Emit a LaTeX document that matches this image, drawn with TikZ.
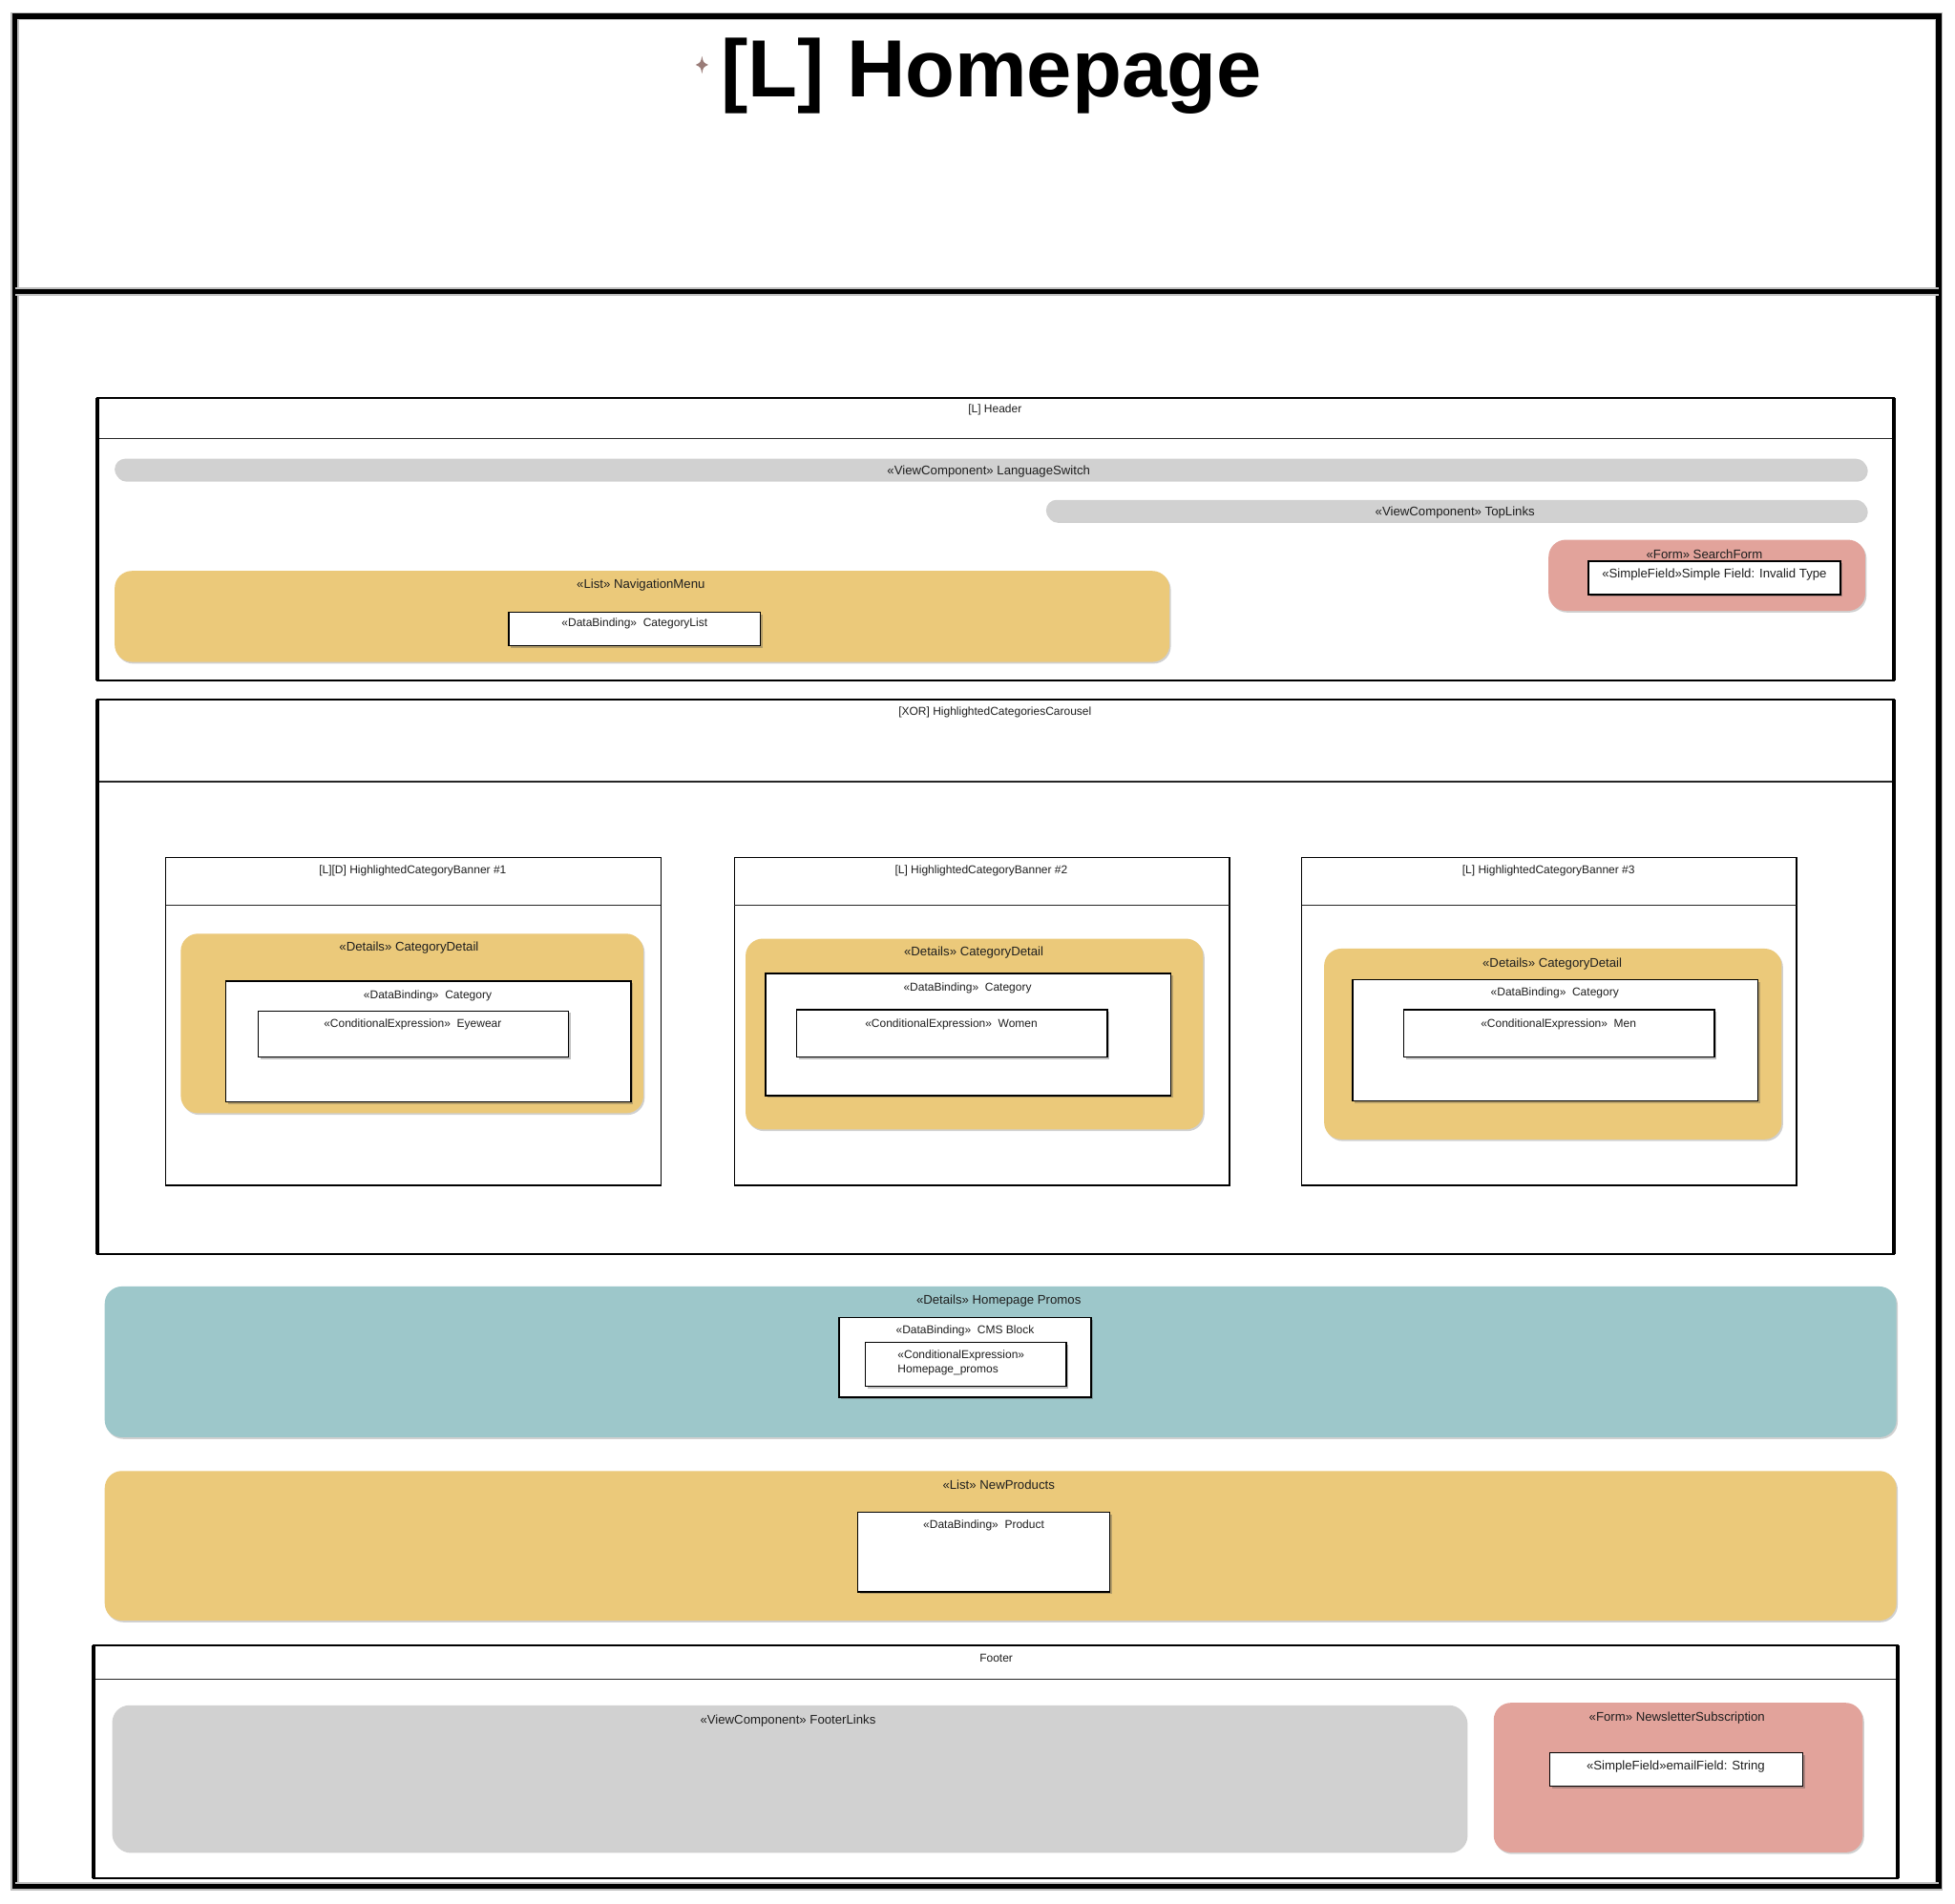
\documentclass[tikz,border=0pt]{standalone}
\usepackage{fontspec}
\setmainfont{Liberation Sans}
\usetikzlibrary{fit,shadows}

\definecolor{listyellow}{HTML}{EBC97A}
\definecolor{viewgrey}{HTML}{D1D1D1}
\definecolor{formsalmon}{HTML}{E2A39B}
\definecolor{detailteal}{HTML}{9DC7CA}
\definecolor{starbrown}{HTML}{9A7C78}

\tikzset{
  every node/.style={inner sep=0pt, outer sep=0pt},
  lbl/.style={font=\fontsize{6.6}{8}\selectfont, text=black!88},
  slbl/.style={font=\fontsize{6.0}{7.4}\selectfont, text=black!88},
  pageframe/.style={draw=black, line width=2.6pt, preaction={draw=black!25, line width=4.4pt}},
  pageline/.style={draw=black, line width=2.6pt, preaction={draw=black!25, line width=4.4pt}},
  frame/.style={draw=black, line width=0.9pt, fill=white},
  frameside/.style={draw=black, line width=2.2pt},
  banner/.style={draw=black, line width=0.75pt, fill=white},
  divider/.style={draw=black!85, line width=0.7pt},
  softshadow/.style={drop shadow={shadow xshift=0.7pt, shadow yshift=-0.9pt, opacity=0.3, fill=black!60}},
  pill/.style={fill=viewgrey, rounded corners=5.5pt, softshadow},
  roundbox/.style={rounded corners=9pt, softshadow},
  whitebox/.style={draw=black, line width=0.75pt, fill=white,
    drop shadow={shadow xshift=1.1pt, shadow yshift=-1.1pt, opacity=0.35, fill=black!70}},
}

\begin{document}
\begin{tikzpicture}[x=0.65306pt, y=-0.65306pt]
\useasboundingbox[fill=white] (0,0) rectangle (1568,1527.4);

% page frame with the title band
\node[pageframe, fit={(12,13) (1555,1513)}] (page) {};
\draw[pageline] (page.west |- 0,234) -- (page.east |- 0,234);
\node[font=\bfseries\fontsize{42.5}{50}\selectfont, anchor=base] (title) at (795,78) {[L] Homepage};
\fill[starbrown] (563,45) .. controls (564,50) .. (568,52) .. controls (564,54) .. (563,59)
  .. controls (562,54) .. (558,52) .. controls (562,50) .. (563,45) -- cycle;

% ---------- Header ----------
\node[frame, fit={(78,319) (1519,546)}] (header) {};
\draw[divider] (header.west |- 0,352) -- (header.east |- 0,352);
\draw[frameside] (header.north west) -- (header.south west);
\draw[frameside] (header.north east) -- (header.south east);
\node[slbl] (headerT) at (798,329) {[L] Header};

\node[pill, fit={(92,368) (1497,385)}] (lang) {};
\node[lbl] (langT) at (793,378.5) {«ViewComponent» LanguageSwitch};

\node[pill, fit={(839,401) (1497,418)}] (toplinks) {};
\node[lbl] (toplinksT) at (1167,411.5) {«ViewComponent» TopLinks};

\node[roundbox, fill=formsalmon, fit={(1242,433) (1496,490)}] (search) {};
\node[lbl] (searchT) at (1367,444.5) {«Form» SearchForm};
\node[whitebox, fit={(1274,450) (1476,477)}] (searchF) {};
\node[lbl] (searchFT) at (1375,461) {«SimpleField»Simple Field: Invalid Type};

\node[roundbox, fill=listyellow, fit={(92,458) (938,531)}] (nav) {};
\node[lbl] (navT) at (514,469.5) {«List» NavigationMenu};
\node[whitebox, fit={(408,491) (610,518)}] (navDB) {};
\node[slbl] (navDBT) at (509,500.5) {«DataBinding»\ \ CategoryList};

% ---------- Carousel ----------
\node[frame, fit={(78,561) (1519,1006)}] (carousel) {};
\draw[divider] (carousel.west |- 0,627) -- (carousel.east |- 0,627);
\draw[frameside] (carousel.north west) -- (carousel.south west);
\draw[frameside] (carousel.north east) -- (carousel.south east);
\draw[frameside, line width=1.4pt] (carousel.south west) -- (carousel.south east);
\node[slbl] (carouselT) at (798,571.5) {[XOR] HighlightedCategoriesCarousel};

% banner 1
\node[banner, fit={(133,688) (530,951)}] (b1) {};
\draw[divider] (b1.west |- 0,726) -- (b1.east |- 0,726);
\node[slbl] (b1T) at (331,698.5) {[L][D] HighlightedCategoryBanner \#1};
\node[roundbox, fill=listyellow, fit={(145,749) (516,893)}] (d1) {};
\node[lbl] (d1T) at (328,760.5) {«Details» CategoryDetail};
\node[whitebox, fit={(181,787) (506,884)}] (db1) {};
\node[slbl] (db1T) at (343,798.5) {«DataBinding»\ \ Category};
\node[whitebox, fit={(207,811) (456,848)}] (ce1) {};
\node[slbl] (ce1T) at (331,821.5) {«ConditionalExpression»\ \ Eyewear};

% banner 2
\node[banner, fit={(589,688) (986,951)}] (b2) {};
\draw[divider] (b2.west |- 0,726) -- (b2.east |- 0,726);
\node[slbl] (b2T) at (787,698.5) {[L] HighlightedCategoryBanner \#2};
\node[roundbox, fill=listyellow, fit={(598,753) (965,906)}] (d2) {};
\node[lbl] (d2T) at (781,764.5) {«Details» CategoryDetail};
\node[whitebox, fit={(614,781) (939,879)}] (db2) {};
\node[slbl] (db2T) at (776,792.5) {«DataBinding»\ \ Category};
\node[whitebox, fit={(639,810) (888,848)}] (ce2) {};
\node[slbl] (ce2T) at (763,821.5) {«ConditionalExpression»\ \ Women};

% banner 3
\node[banner, fit={(1044,688) (1441,951)}] (b3) {};
\draw[divider] (b3.west |- 0,726) -- (b3.east |- 0,726);
\node[slbl] (b3T) at (1242,698.5) {[L] HighlightedCategoryBanner \#3};
\node[roundbox, fill=listyellow, fit={(1062,761) (1429,914)}] (d3) {};
\node[lbl] (d3T) at (1245,773.5) {«Details» CategoryDetail};
\node[whitebox, fit={(1085,786) (1410,883)}] (db3) {};
\node[slbl] (db3T) at (1247,796.5) {«DataBinding»\ \ Category};
\node[whitebox, fit={(1126,810) (1375,848)}] (ce3) {};
\node[slbl] (ce3T) at (1250,821.5) {«ConditionalExpression»\ \ Men};

% ---------- Promos ----------
\node[roundbox, fill=detailteal, fit={(84,1032) (1521,1153)}] (promos) {};
\node[lbl] (promosT) at (801,1043.5) {«Details» Homepage Promos};
\node[whitebox, fit={(673,1057) (875,1121)}] (cms) {};
\node[slbl] (cmsT) at (774,1067.5) {«DataBinding»\ \ CMS Block};
\node[whitebox, fit={(694,1077) (855,1112)}] (cmsCE) {};
\node[slbl, anchor=west, align=left] (cmsCET) at (720,1093.5) {«ConditionalExpression»\\Homepage\_promos};

% ---------- New products ----------
\node[roundbox, fill=listyellow, fit={(84,1180) (1521,1300)}] (newp) {};
\node[lbl] (newpT) at (801,1191.5) {«List» NewProducts};
\node[whitebox, fit={(688,1213) (890,1277)}] (prod) {};
\node[slbl] (prodT) at (789,1223.5) {«DataBinding»\ \ Product};

% ---------- Footer ----------
\node[frame, fit={(75,1320) (1522,1507)}] (footer) {};
\draw[divider] (footer.west |- 0,1347) -- (footer.east |- 0,1347);
\draw[frameside] (footer.north west) -- (footer.south west);
\draw[frameside] (footer.north east) -- (footer.south east);
\node[slbl] (footerT) at (799,1330.5) {Footer};

\node[roundbox, fill=viewgrey, fit={(90,1368) (1176,1485)}] (flinks) {};
\node[lbl] (flinksT) at (632,1380.5) {«ViewComponent» FooterLinks};

\node[roundbox, fill=formsalmon, fit={(1198,1366) (1494,1486)}] (news) {};
\node[lbl] (newsT) at (1345,1378.5) {«Form» NewsletterSubscription};
\node[whitebox, fit={(1243,1406) (1446,1433)}] (email) {};
\node[lbl] (emailT) at (1344,1417.5) {«SimpleField»emailField: String};

% page frame bottom edge drawn last so it sits over the footer
\draw[pageline] (page.south west) -- (page.south east);
\end{tikzpicture}
\end{document}
